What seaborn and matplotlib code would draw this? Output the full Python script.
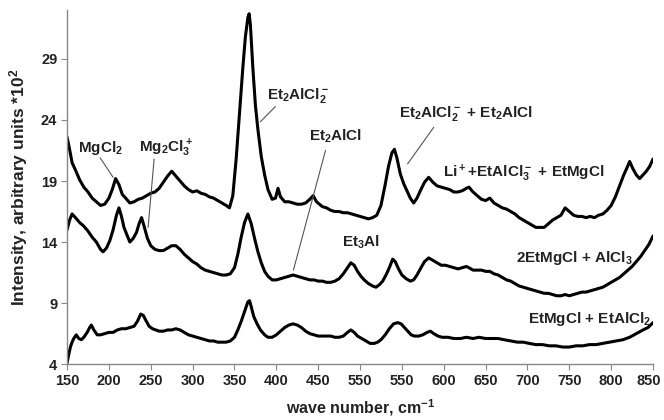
import matplotlib
matplotlib.use("Agg")
import matplotlib.pyplot as plt
import matplotlib.transforms as mtransforms
import seaborn as sns

sns.set_style("ticks")
plt.rcParams["font.family"] = ["Liberation Sans", "DejaVu Sans"]
plt.rcParams["font.weight"] = "bold"
plt.rcParams["mathtext.default"] = "regular"

# Li+ + EtAlCl3- + EtMgCl (top)
top_x = [150, 153, 156, 160, 165, 170, 175, 180, 185, 190, 195, 200, 204, 208, 212, 216, 220, 225, 230, 235,
         240, 245, 250, 255, 260, 265, 270, 275, 280, 285, 290, 295, 300, 305, 310, 315, 320, 325, 330, 335,
         340, 344, 348, 352, 356, 360, 363, 366, 367.5, 369, 372, 375, 378, 382, 386, 390, 395, 399, 402, 405,
         410, 415, 420, 425, 430, 435, 440, 444, 448, 455, 460, 465, 470, 475, 480, 485, 490, 495, 500, 505,
         510, 515, 520, 525, 530, 534, 538, 541, 544, 548, 552, 556, 560, 564, 568, 572, 577, 582, 587, 592,
         597, 602, 607, 612, 617, 622, 627, 630, 635, 640, 645, 650, 655, 660, 665, 670, 675, 680, 685, 690,
         695, 700, 705, 710, 715, 720, 725, 730, 735, 740, 745, 750, 755, 760, 765, 770, 775, 780, 785, 790,
         795, 800, 805, 810, 815, 819, 822, 826, 830, 834, 838, 842, 846, 850]
top_y = [22.6, 21.6, 20.5, 19.9, 19.1, 18.5, 18.1, 17.6, 17.3, 17.0, 17.1, 17.6, 18.3, 19.2, 18.7, 17.9, 17.6, 17.2, 17.3, 17.5,
         17.6, 17.8, 18.0, 18.1, 18.4, 18.9, 19.4, 19.8, 19.4, 19.0, 18.6, 18.3, 18.1, 18.2, 18.0, 17.9, 17.7, 17.6, 17.4, 17.2,
         17.0, 16.8, 17.8, 20.8, 24.5, 28.3, 30.8, 32.4, 32.7, 31.8, 28.2, 25.2, 23.2, 21.0, 19.5, 18.3, 17.5, 17.6, 18.4, 17.7,
         17.3, 17.3, 17.2, 17.1, 17.1, 17.2, 17.5, 17.8, 17.3, 16.9, 16.8, 16.6, 16.5, 16.5, 16.4, 16.4, 16.3, 16.2, 16.1, 16.0,
         15.9, 16.0, 16.2, 17.0, 18.7, 20.2, 21.3, 21.6, 20.9, 19.6, 18.8, 18.2, 17.6, 17.2, 17.6, 18.2, 18.9, 19.3, 18.9, 18.6,
         18.5, 18.4, 18.3, 18.1, 18.1, 18.2, 18.4, 18.5, 18.1, 17.8, 17.5, 17.4, 17.6, 17.2, 17.0, 16.8, 16.7, 16.5, 16.3, 16.0,
         15.8, 15.6, 15.4, 15.2, 15.2, 15.2, 15.5, 15.8, 16.0, 16.2, 16.8, 16.5, 16.2, 16.1, 16.1, 16.0, 16.1, 16.0, 16.2, 16.3,
         16.6, 17.0, 17.7, 18.6, 19.5, 20.1, 20.6, 20.0, 19.5, 19.2, 19.5, 19.8, 20.2, 20.8]

# 2EtMgCl + AlCl3 (middle)
mid_x = [150, 153, 156, 160, 165, 170, 175, 180, 185, 190, 193, 197, 201, 205, 209, 212, 215, 218, 222, 225,
         229, 233, 236, 239, 242, 246, 250, 255, 260, 265, 270, 275, 280, 285, 290, 295, 300, 305, 310, 315,
         320, 325, 330, 335, 340, 345, 350, 354, 358, 362, 366, 370, 374, 378, 382, 386, 390, 395, 400, 405,
         410, 415, 420, 425, 430, 435, 440, 445, 450, 455, 460, 465, 470, 475, 480, 485, 489, 493, 497, 501,
         505, 510, 515, 519, 523, 527, 531, 535, 539, 542, 546, 550, 555, 560, 564, 568, 572, 577, 582, 587,
         592, 597, 602, 607, 612, 617, 622, 627, 630, 635, 640, 645, 650, 655, 660, 665, 670, 675, 680, 685,
         690, 695, 700, 705, 710, 715, 720, 725, 730, 735, 740, 745, 750, 755, 760, 765, 770, 775, 780, 785,
         790, 795, 800, 805, 810, 815, 820, 825, 830, 835, 840, 845, 850]
mid_y = [15.0, 15.8, 16.3, 16.0, 15.6, 15.3, 14.9, 14.4, 14.0, 13.4, 13.2, 13.5, 14.1, 15.0, 16.2, 16.8, 16.1, 15.2, 14.5, 14.0,
         14.3, 14.8, 15.5, 16.0, 15.3, 14.3, 13.7, 13.4, 13.3, 13.3, 13.5, 13.7, 13.7, 13.4, 13.0, 12.7, 12.4, 12.2, 11.9, 11.7,
         11.6, 11.5, 11.4, 11.3, 11.3, 11.4, 11.9, 13.0, 14.4, 15.6, 16.3, 15.5, 14.3, 13.2, 12.3, 11.6, 11.2, 10.9, 10.9, 11.0,
         11.1, 11.2, 11.3, 11.2, 11.1, 11.0, 10.9, 10.9, 10.8, 10.8, 10.7, 10.7, 10.8, 11.0, 11.4, 11.9, 12.3, 12.1, 11.6, 11.2,
         10.9, 10.6, 10.4, 10.3, 10.5, 10.8, 11.3, 11.9, 12.6, 12.4, 11.8, 11.3, 11.0, 10.8, 10.9, 11.3, 11.8, 12.4, 12.7, 12.5,
         12.3, 12.1, 12.1, 12.0, 11.9, 11.8, 11.9, 12.0, 11.9, 11.7, 11.7, 11.7, 11.6, 11.6, 11.4, 11.3, 11.1, 10.9, 10.8, 10.6,
         10.4, 10.3, 10.2, 10.1, 10.0, 9.9, 9.8, 9.8, 9.7, 9.6, 9.6, 9.7, 9.6, 9.7, 9.8, 9.9, 9.9, 10.0, 10.1, 10.2,
         10.3, 10.5, 10.7, 10.9, 11.1, 11.4, 11.7, 12.0, 12.4, 12.8, 13.3, 13.8, 14.5]

# EtMgCl + EtAlCl2 (bottom)
bot_x = [150, 152, 154, 156, 158, 161, 164, 167, 170, 174, 177, 179, 182, 186, 190, 195, 200, 205, 210, 215,
         220, 225, 230, 234, 238, 241, 244, 248, 252, 256, 260, 265, 270, 275, 280, 285, 290, 295, 300, 305,
         310, 315, 320, 325, 330, 335, 340, 345, 350, 354, 358, 362, 366, 368, 370, 373, 377, 381, 386, 390,
         395, 400, 405, 410, 415, 420, 425, 430, 435, 440, 445, 450, 455, 460, 465, 470, 475, 480, 485, 489,
         493, 497, 502, 507, 512, 517, 521, 525, 530, 535, 540, 545, 549, 553, 557, 561, 565, 570, 575, 580,
         584, 588, 593, 598, 605, 612, 620, 627, 635, 642, 650, 657, 665, 672, 680, 688, 695, 702, 710, 718,
         726, 734, 742, 750, 758, 766, 774, 782, 790, 798, 806, 814, 822, 830, 838, 844, 850]
bot_y = [4.1, 4.8, 5.4, 5.8, 6.1, 6.4, 6.1, 6.0, 6.2, 6.6, 7.0, 7.2, 6.8, 6.4, 6.4, 6.5, 6.6, 6.6, 6.8, 6.9,
         6.9, 7.0, 7.1, 7.5, 8.1, 8.0, 7.6, 7.1, 6.9, 6.8, 6.7, 6.7, 6.8, 6.8, 6.9, 6.8, 6.6, 6.4, 6.3, 6.2,
         6.1, 6.0, 5.9, 5.9, 5.8, 5.8, 5.8, 5.9, 6.2, 6.8, 7.5, 8.3, 9.1, 9.2, 8.7, 7.9, 7.3, 6.8, 6.4, 6.2,
         6.2, 6.4, 6.7, 7.0, 7.2, 7.3, 7.2, 7.0, 6.7, 6.5, 6.4, 6.3, 6.3, 6.3, 6.3, 6.2, 6.2, 6.3, 6.6, 6.8,
         6.6, 6.3, 6.1, 5.9, 5.7, 5.7, 5.8, 6.0, 6.4, 6.9, 7.3, 7.4, 7.3, 7.0, 6.7, 6.4, 6.3, 6.3, 6.4, 6.6,
         6.7, 6.5, 6.3, 6.2, 6.2, 6.1, 6.1, 6.2, 6.1, 6.2, 6.1, 6.1, 6.1, 6.0, 5.9, 5.8, 5.8, 5.7, 5.6, 5.6,
         5.5, 5.5, 5.4, 5.4, 5.5, 5.5, 5.6, 5.6, 5.7, 5.8, 5.9, 6.0, 6.2, 6.5, 6.8, 7.0, 7.4]

x_ticks = [150, 200, 250, 300, 350, 400, 450, 500, 550, 600, 650, 700, 750, 800, 850]
x_tick_labels = ["150", "200", "250", "300", "350", "400", "450", "550", "550",
                 "600", "650", "700", "750", "800", "850"]
y_ticks = [4, 9, 14, 19, 24, 29]

fig = plt.figure(figsize=(6.64, 4.2), dpi=100)
ax = fig.add_axes([0.101, 0.133, 0.8825, 0.843])

for xs, ys in [(top_x, top_y), (mid_x, mid_y), (bot_x, bot_y)]:
    sns.lineplot(x=xs, y=ys, ax=ax, color="black", lw=2.2, estimator=None)

ax.set_xlim(150, 850)
ax.set_ylim(4, 33)
ax.set_xticks(x_ticks)
ax.set_xticklabels(x_tick_labels)
ax.set_yticks(y_ticks)
ax.tick_params(labelsize=10.5, colors="#222222", length=4, width=0.8, pad=3)
ax.tick_params(color="#888888")
sns.despine(ax=ax)
for s in ["left", "bottom"]:
    ax.spines[s].set_color("#888888")
    ax.spines[s].set_linewidth(1.0)

# keep last x tick label inside the canvas
last = ax.get_xticklabels()[-1]
last.set_transform(last.get_transform() + mtransforms.ScaledTranslation(-4 / 100, 0, fig.dpi_scale_trans))

ax.set_xlabel("wave number, cm$^{-1}$", fontsize=11.5, fontweight="bold", color="#222222", labelpad=7)
ax.set_ylabel("Intensity, arbitrary units *10$^2$", fontsize=12.5, fontweight="bold", color="#222222", labelpad=8)

# labels
txt = dict(fontsize=11, fontweight="bold", color="#222222", ha="center", va="center")
ax.text(189.5, 21.7, "MgCl$_2$", **txt)
ax.text(268.5, 21.7, "Mg$_2$Cl$_3^+$", **txt)
ax.text(426, 26.0, "Et$_2$AlCl$_2^-$", **txt)
ax.text(471, 22.7, "Et$_2$AlCl", **txt)
ax.text(627, 24.5, "Et$_2$AlCl$_2^-$ + Et$_2$AlCl", **txt)
ax.text(696, 19.6, "Li$^+$+EtAlCl$_3^-$ + EtMgCl", **txt)
ax.text(501, 14.0, "Et$_3$Al", **txt)
ax.text(756, 12.7, "2EtMgCl + AlCl$_3$", **txt)
ax.text(774, 7.7, "EtMgCl + EtAlCl$_2$", **txt)

# pointer lines
lk = dict(color="#555555", lw=0.8)
ax.plot([189.5, 205], [20.9, 19.3], **lk)
ax.plot([254, 246.8], [20.8, 15.2], **lk)
ax.plot([398.9, 380.9], [25.1, 23.85], **lk)
ax.plot([458.7, 420.4], [21.5, 11.7], **lk)
ax.plot([588, 556.8], [23.4, 20.4], **lk)

fig.savefig("out.png", dpi=100)
